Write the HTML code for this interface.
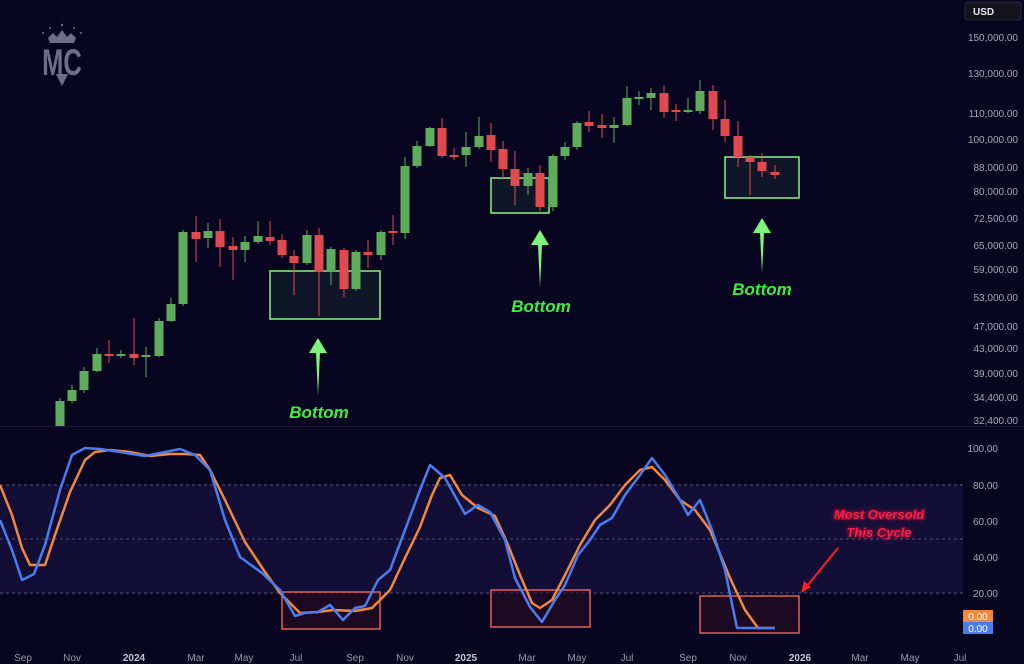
<!DOCTYPE html>
<html><head><meta charset="utf-8"><style>
html,body{margin:0;padding:0;background:#07051f;}
svg{display:block;}
text{font-family:"Liberation Sans",sans-serif;}
</style></head><body>
<svg id="s" width="1024" height="664" viewBox="0 0 1024 664" xmlns="http://www.w3.org/2000/svg">
<defs>
<filter id="glow" x="-30%" y="-50%" width="160%" height="200%"><feGaussianBlur stdDeviation="2.5" result="b"/><feMerge><feMergeNode in="b"/><feMergeNode in="SourceGraphic"/></feMerge></filter>
</defs>
<rect width="1024" height="664" fill="#07051f"/>
<rect x="0" y="485" width="963" height="108" fill="#130e36"/>
<line x1="0" y1="426.5" x2="1024" y2="426.5" stroke="#1d1a3a" stroke-width="1"/>
<g stroke="#5a5678" stroke-width="1" stroke-dasharray="3,3">
<line x1="0" y1="485" x2="963" y2="485"/><line x1="0" y1="539" x2="963" y2="539"/><line x1="0" y1="593" x2="963" y2="593"/>
</g>
<!-- logo -->
<g fill="#6f6d8a">
<polygon points="48,38 53,33 57,37 62,30 67,37 71,33 76,38 74,43 50,43"/>
<circle cx="43" cy="33" r="1"/><circle cx="50" cy="28" r="1"/><circle cx="62" cy="25" r="1.2"/><circle cx="74" cy="28" r="1"/><circle cx="81" cy="33" r="1"/>
<text x="62" y="75" font-size="34" font-weight="bold" text-anchor="middle" transform="translate(62 0) scale(0.75 1.1) translate(-62 -7)">MC</text>
<polygon points="56,74 68,74 62,86"/>
</g>
<g fill="#111828" fill-opacity="0.9" stroke="#8ef08a" stroke-width="1.5">
<rect x="270" y="271" width="110" height="48"/>
<rect x="491" y="178" width="58" height="35"/>
<rect x="725" y="157" width="74" height="41"/>
</g>
<g id="candles"></g>
<g fill="#7cf57a">
<polygon points="318,338 327,353 320,353 318,396 316,353 309,353"/>
<polygon points="540,230 549,245 542,245 540,288 538,245 531,245"/>
<polygon points="762,218 771,233 764,233 762,273 760,233 753,233"/>
</g>
<g fill="#3ef03e" font-weight="bold" font-style="italic" font-size="17" text-anchor="middle">
<text x="319" y="418">Bottom</text>
<text x="541" y="312">Bottom</text>
<text x="762" y="295">Bottom</text>
</g>
<g fill="#2a0d24" fill-opacity="0.6" stroke="#e0605a" stroke-width="1.5">
<rect x="282" y="592" width="98" height="37"/>
<rect x="491" y="590" width="99" height="37"/>
<rect x="700" y="596" width="99" height="37"/>
</g>
<polyline fill="none" stroke="#f0883e" stroke-width="2.5" stroke-linejoin="round" points="0,485 12,515 22,548 30,565 45,565 55,535 70,492 85,460 95,452 110,450 130,452 150,456 170,454 185,454 200,455 210,470 225,500 245,542 265,572 280,593 300,613 318,612 333,610 355,611 372,608 390,590 405,558 420,527 432,495 440,478 450,475 462,495 478,508 495,516 508,545 520,575 532,603 540,608 552,600 565,575 580,545 595,520 610,505 625,485 640,470 652,467 665,480 680,500 695,510 710,530 730,578 745,610 758,628 775,628"/>
<polyline fill="none" stroke="#4a7cf0" stroke-width="2.5" stroke-linejoin="round" points="0,520 12,550 22,580 34,574 45,545 60,490 72,455 85,448 100,449 120,452 145,456 165,452 180,449 195,455 210,470 225,520 240,557 262,573 280,590 295,616 305,613 318,612 330,605 343,620 355,608 365,606 378,580 390,570 405,530 420,490 430,465 445,478 465,514 478,505 490,512 505,540 515,578 530,607 542,622 555,600 565,585 578,555 590,540 600,525 612,518 625,495 640,475 652,458 665,475 680,500 688,515 700,500 712,530 725,570 737,628 775,628"/>
<g fill="#ff1a44" font-weight="bold" font-style="italic" font-size="13" text-anchor="middle" filter="url(#glow)">
<text x="879" y="519">Most Oversold</text>
<text x="879" y="537">This Cycle</text>
</g>
<line x1="838" y1="548" x2="807" y2="586" stroke="#ff2020" stroke-width="2"/>
<polygon points="801,593 804,581 811,587" fill="#ff2020"/>
<rect x="965" y="2" width="56" height="18" rx="3" fill="#15131e" stroke="#2a2838"/>
<text x="973" y="15" fill="#e8e8ee" font-size="10" font-weight="bold">USD</text>
<g fill="#a9a8b8" font-size="10" text-anchor="end">
<text x="1018" y="41">150,000.00</text><text x="1018" y="77">130,000.00</text><text x="1018" y="117">110,000.00</text>
<text x="1018" y="143">100,000.00</text><text x="1018" y="171">88,000.00</text><text x="1018" y="195">80,000.00</text>
<text x="1018" y="222">72,500.00</text><text x="1018" y="249">65,000.00</text><text x="1018" y="273">59,000.00</text>
<text x="1018" y="301">53,000.00</text><text x="1018" y="330">47,000.00</text><text x="1018" y="352">43,000.00</text>
<text x="1018" y="377">39,000.00</text><text x="1018" y="401">34,400.00</text><text x="1018" y="424">32,400.00</text>
<text x="998" y="452">100.00</text><text x="998" y="489">80.00</text><text x="998" y="525">60.00</text>
<text x="998" y="561">40.00</text><text x="998" y="597">20.00</text>
</g>
<rect x="963" y="610" width="30" height="12" fill="#f0883e"/>
<rect x="963" y="622" width="30" height="12" fill="#4a7cf0"/>
<g fill="#fff" font-size="10" text-anchor="middle"><text x="978" y="620">0.00</text><text x="978" y="632">0.00</text></g>
<g fill="#9a98ac" font-size="10" text-anchor="middle">
<text x="23" y="661">Sep</text><text x="72" y="661">Nov</text><text x="134" y="661" font-weight="bold" fill="#c8c6d6">2024</text>
<text x="196" y="661">Mar</text><text x="244" y="661">May</text><text x="296" y="661">Jul</text><text x="355" y="661">Sep</text>
<text x="405" y="661">Nov</text><text x="466" y="661" font-weight="bold" fill="#c8c6d6">2025</text><text x="527" y="661">Mar</text>
<text x="577" y="661">May</text><text x="627" y="661">Jul</text><text x="688" y="661">Sep</text><text x="738" y="661">Nov</text>
<text x="800" y="661" font-weight="bold" fill="#c8c6d6">2026</text><text x="860" y="661">Mar</text><text x="910" y="661">May</text><text x="960" y="661">Jul</text>
</g>
</svg>
<script>
var C=[[60,'g',401,426,398,426],[72,'g',390,401,385,403],[84,'g',371,390,367,393],[97,'g',354,371,348,372],[109,'r',354,356,340,363],[121,'g',354,356,350,358],[134,'r',354,358,318,365],[146,'g',355,357,347,377],
[159,'g',321,356,318,357],[171,'g',304,321,298,322],[183,'g',232,304,230,306],[196,'r',232,239,216,262],[208,'g',231,238,223,248],[220,'r',231,247,219,267],[233,'r',246,250,237,280],[245,'g',242,250,236,262],
[258,'g',236,242,221,244],[270,'r',237,241,221,245],[282,'r',240,255,234,258],[294,'r',256,263,250,295],[307,'g',235,263,230,265],[319,'r',235,272,228,316],[331,'g',249,272,247,285],[344,'r',250,289,248,297],
[356,'g',252,289,250,291],[368,'r',252,255,240,268],[381,'g',232,255,230,260],[393,'r',231,233,215,245],[405,'g',166,233,157,239],[417,'g',146,166,141,168],[430,'g',128,146,127,147],[442,'r',128,156,118,158],
[454,'r',155,157,148,160],[466,'g',147,155,132,167],[479,'g',136,147,117,149],[491,'r',135,150,123,162],[503,'r',149,169,141,178],[515,'r',169,186,151,205],[528,'g',173,186,168,195],[540,'r',173,207,165,211],
[553,'g',156,207,154,211],[565,'g',147,156,142,160],[577,'g',123,147,121,150],[589,'r',122,126,111,132],[602,'r',125,128,114,138],[614,'g',125,128,117,143],[627,'g',98,125,86,126],[639,'g',97,99,91,105],
[651,'g',93,98,88,110],[664,'r',93,112,85,118],[676,'r',110,112,104,121],[688,'g',110,112,98,113],[700,'g',91,111,80,114],[713,'r',91,119,85,130],[725,'r',119,136,100,142],[738,'r',136,157,121,167],
[750,'r',157,162,155,195],[762,'r',162,171,153,177],[775,'r',172,175,165,179]];
var h='';C.forEach(function(c){var col=c[1]=='g'?'#5fac5c':'#e0494f';
h+='<line x1="'+c[0]+'" y1="'+c[4]+'" x2="'+c[0]+'" y2="'+c[5]+'" stroke="'+col+'" stroke-width="1"/>';
h+='<rect x="'+(c[0]-4.5)+'" y="'+c[2]+'" width="9" height="'+Math.max(2,c[3]-c[2])+'" fill="'+col+'"/>';});
document.getElementById('candles').innerHTML=h;
</script>
</body></html>
